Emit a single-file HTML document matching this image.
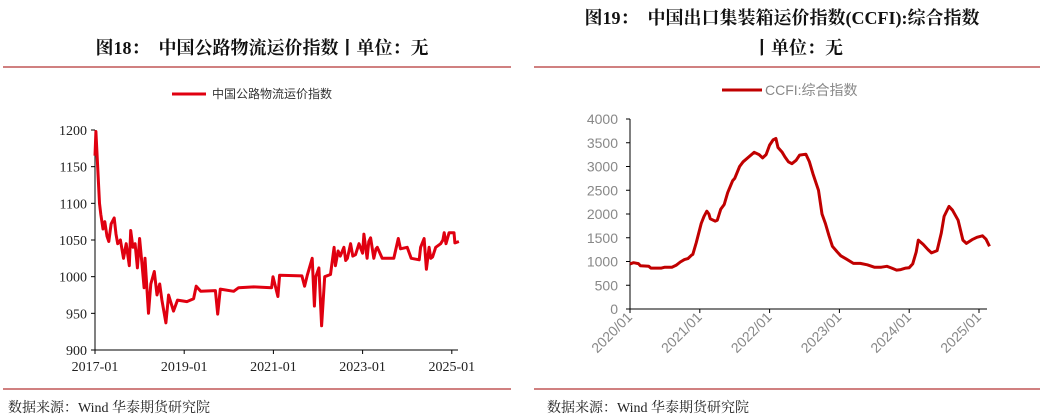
<!DOCTYPE html>
<html><head><meta charset="utf-8"><style>
html,body{margin:0;padding:0;background:#fff;width:1057px;height:419px;overflow:hidden}
svg{display:block}
.t{font-family:"Liberation Serif","Noto Serif CJK SC",serif;font-weight:bold;font-size:18px;fill:#111}
.f{font-family:"Liberation Serif","Noto Serif CJK SC",serif;font-size:14px;fill:#222}
.lt{font-family:"Liberation Serif",serif;font-size:14px;fill:#222}
.rt{font-family:"Liberation Sans","Noto Sans CJK SC",sans-serif;font-size:14px;fill:#888}
.lg{font-family:"Liberation Sans","Noto Sans CJK SC",sans-serif;font-size:12px;fill:#333}
</style></head><body>
<svg id="s" width="1057" height="419" xmlns="http://www.w3.org/2000/svg">
<text class="t" x="262" y="54" text-anchor="middle">图18：　中国公路物流运价指数丨单位：无</text>
<text class="t" x="782" y="24" text-anchor="middle">图19：　中国出口集装箱运价指数(CCFI):综合指数</text>
<text class="t" x="798" y="54" text-anchor="middle">丨单位：无</text>
<rect x="3" y="66" width="508" height="2" fill="#d08080"/>
<rect x="534" y="66" width="506" height="2" fill="#d08080"/>
<rect x="3" y="388" width="508" height="2" fill="#d08080"/>
<rect x="534" y="388" width="506" height="2" fill="#d08080"/>
<text class="f" x="8" y="412">数据来源：Wind  华泰期货研究院</text>
<text class="f" x="547" y="412">数据来源：Wind  华泰期货研究院</text>
<line x1="172" y1="94" x2="206" y2="94" stroke="#e00010" stroke-width="3"/>
<text class="lg" x="212" y="98">中国公路物流运价指数</text>
<line x1="722" y1="90" x2="762" y2="90" stroke="#c00000" stroke-width="3"/>
<text class="rt" x="765" y="95">CCFI:综合指数</text>
<g id="L"></g><g id="R"></g>
</svg>
<script>
// Left chart data (t = years since 2017-01)
const leftT=[0,0.02,0.1,0.13,0.18,0.22,0.27,0.31,0.36,0.43,0.47,0.51,0.57,0.64,0.7,0.77,0.8,0.85,0.9,0.95,1.0,1.05,1.1,1.12,1.2,1.25,1.33,1.39,1.45,1.5,1.59,1.65,1.7,1.76,1.85,2.06,2.21,2.27,2.37,2.7,2.75,2.81,3.11,3.22,3.56,3.96,3.99,4.1,4.14,4.64,4.7,4.76,4.87,4.92,4.95,5.02,5.08,5.15,5.28,5.36,5.39,5.45,5.5,5.58,5.62,5.66,5.73,5.78,5.84,5.92,6.0,6.03,6.1,6.14,6.18,6.25,6.3,6.33,6.44,6.7,6.8,6.85,7.0,7.09,7.27,7.3,7.38,7.43,7.49,7.53,7.57,7.64,7.75,7.8,7.83,7.87,7.94,8.05,8.07,8.16];
const leftV=[1165,1198,1100,1085,1065,1075,1055,1048,1072,1080,1058,1045,1050,1025,1045,1015,1063,1040,1045,1012,1052,1020,985,1025,950,990,1007,975,990,968,937,975,965,953,968,966,970,987,980,981,949,983,980,985,986,985,1000,973,1002,1001,987,1002,1025,960,1000,1012,933,1000,1003,1040,1015,1035,1028,1040,1022,1025,1045,1028,1030,1045,1032,1058,1025,1048,1053,1025,1038,1040,1025,1025,1052,1038,1040,1025,1023,1040,1052,1010,1040,1025,1027,1040,1045,1050,1060,1045,1060,1060,1046,1048];
const leftYTicks=[900,950,1000,1050,1100,1150,1200];
const leftXLabels=["2017-01","2019-01","2021-01","2023-01","2025-01"];
const leftXTickYears=[0,2,4,6,8];
// Right chart data (t = years since 2020/01)
const rightT=[0,0.05,0.12,0.15,0.27,0.3,0.45,0.5,0.6,0.66,0.72,0.78,0.83,0.88,0.9,0.95,1.02,1.06,1.1,1.13,1.15,1.22,1.25,1.3,1.35,1.4,1.47,1.5,1.57,1.62,1.7,1.78,1.85,1.9,1.95,2.0,2.05,2.09,2.12,2.18,2.22,2.27,2.32,2.38,2.43,2.52,2.57,2.62,2.7,2.75,2.8,2.85,2.9,2.97,3.02,3.1,3.2,3.3,3.4,3.5,3.6,3.68,3.75,3.82,3.88,3.95,4.0,4.05,4.1,4.13,4.2,4.27,4.32,4.4,4.46,4.5,4.57,4.62,4.7,4.77,4.82,4.9,4.97,5.05,5.1,5.15];
const rightV=[950,975,955,910,900,860,860,880,880,920,990,1040,1060,1130,1150,1400,1800,1950,2060,2000,1900,1850,1870,2100,2200,2450,2700,2750,3000,3100,3200,3300,3250,3180,3250,3450,3560,3590,3400,3300,3200,3100,3060,3130,3240,3260,3100,2850,2500,2000,1800,1550,1320,1200,1120,1050,960,960,930,880,880,900,860,820,830,860,870,950,1200,1450,1360,1250,1180,1230,1600,1950,2160,2080,1870,1450,1380,1460,1510,1540,1470,1320];
const rightYTicks=[0,500,1000,1500,2000,2500,3000,3500,4000];
const rightXLabels=["2020/01","2021/01","2022/01","2023/01","2024/01","2025/01"];
const rightXTickYears=[0,1,2,3,4,5];

const NS="http://www.w3.org/2000/svg";
function mk(p,tag,a){const e=document.createElementNS(NS,tag);for(const k in a)e.setAttribute(k,a[k]);p.appendChild(e);return e;}
// Left
const L=document.getElementById('L');
const lx=t=>95+t*44.6, ly=v=>350-(v-900)*220/300;
let e=mk(L,'line',{x1:95,y1:130,x2:95,y2:350,stroke:'#000','stroke-width':1});


e=mk(L,'line',{x1:95,y1:350,x2:458,y2:350,stroke:'#000','stroke-width':1});


leftYTicks.forEach(v=>{
 mk(L,'line',{x1:91,y1:ly(v),x2:95,y2:ly(v),stroke:'#000'});
 const t=mk(L,'text',{x:87,y:ly(v)+5,'text-anchor':'end',class:'lt'});t.textContent=v;
 
 
});
leftXTickYears.forEach((y,i)=>{
 mk(L,'line',{x1:lx(y),y1:350,x2:lx(y),y2:354,stroke:'#000'});
 const t=mk(L,'text',{x:lx(y),y:371,'text-anchor':'middle',class:'lt'});t.textContent=leftXLabels[i];
 
 
});
e=mk(L,'polyline',{points:leftT.map((t,i)=>lx(t).toFixed(1)+','+ly(leftV[i]).toFixed(1)).join(' '),fill:'none',stroke:'#e00010','stroke-width':3,'stroke-linejoin':'round'});


// Right
const R=document.getElementById('R');
const rx=t=>630+t*69.8, ry=v=>309-v*190/4000;
e=mk(R,'line',{x1:630,y1:119,x2:630,y2:309,stroke:'#000'});


e=mk(R,'line',{x1:630,y1:309,x2:987,y2:309,stroke:'#000'});


rightYTicks.forEach(v=>{
 mk(R,'line',{x1:626,y1:ry(v),x2:630,y2:ry(v),stroke:'#000'});
 const t=mk(R,'text',{x:618,y:ry(v)+5,'text-anchor':'end',class:'rt'});t.textContent=v;
 
 
});
rightXTickYears.forEach((y,i)=>{
 mk(R,'line',{x1:rx(y),y1:309,x2:rx(y),y2:313,stroke:'#000'});
 const t=mk(R,'text',{x:rx(y)+3,y:318,'text-anchor':'end',class:'rt',transform:`rotate(-45 ${rx(y)+3} 318)`});t.textContent=rightXLabels[i];
 
 
});
e=mk(R,'polyline',{points:rightT.map((t,i)=>rx(t).toFixed(1)+','+ry(rightV[i]).toFixed(1)).join(' '),fill:'none',stroke:'#c00000','stroke-width':3,'stroke-linejoin':'round'});


</script>
</body></html>
